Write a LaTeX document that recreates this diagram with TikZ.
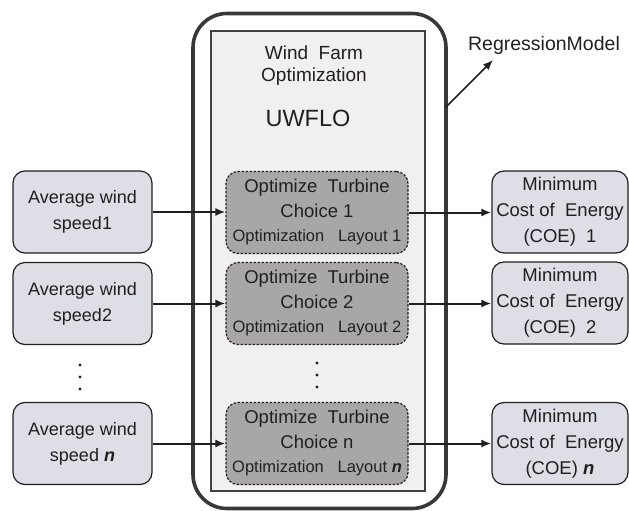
\documentclass[tikz,border=0pt]{standalone}
\usepackage{fontspec}
\setmainfont{Liberation Sans}
\usetikzlibrary{arrows.meta}
\definecolor{boxfill}{RGB}{221,222,230}
\definecolor{grayfill}{RGB}{168,167,165}
\definecolor{innerfill}{RGB}{240,240,240}
\definecolor{ink}{RGB}{35,31,32}
\tikzset{
  inbox/.style={draw=ink, line width=1.2pt, rounded corners=12pt, fill=boxfill,
    minimum width=139pt, minimum height=82pt, inner sep=0pt, align=center,
    text=ink, font=\fontsize{18}{26}\selectfont},
  optbox/.style={draw=ink, line width=1.2pt, dash pattern=on 2.5pt off 1.5pt,
    rounded corners=12pt, fill=grayfill,
    minimum width=182pt, minimum height=82pt, inner sep=0pt, align=center,
    text=ink, font=\fontsize{18.5}{25}\selectfont},
  outbox/.style={draw=ink, line width=1.2pt, rounded corners=12pt, fill=boxfill,
    minimum width=136pt, minimum height=82pt, inner sep=0pt, align=center,
    text=ink, font=\fontsize{18.5}{26}\selectfont},
  conn/.style={draw=ink, line width=2pt, -{Latex[length=10pt,width=8pt]}},
  dotmark/.style={fill=ink, circle, inner sep=0pt, minimum size=3.2pt},
  lbl/.style={text=ink, inner sep=0pt, align=center}
}
\begin{document}
\begin{tikzpicture}[x=1pt,y=-1pt]
\useasboundingbox (0,0) rectangle (629,511);
% outer rough frame
\node[draw=black!78, line width=3.6pt, rounded corners=34pt,
  minimum width=253pt, minimum height=495pt, inner sep=0pt] (outer) at (319.5,261) {};
% inner panel
\node[draw=black!75, line width=1.3pt, fill=innerfill,
  minimum width=214pt, minimum height=460pt, inner sep=0pt] (inner) at (318,261) {};
% titles
\node[lbl, font=\fontsize{19}{22}\selectfont] (title) at (314,66) {Wind\ \ Farm\\Optimization};
\node[lbl, font=\fontsize{23.5}{26}\selectfont] (uwflo) at (308,118) {UWFLO};
\node[lbl, font=\fontsize{19.5}{22}\selectfont] (reg) at (544,45) {RegressionModel};
% left boxes
\node[inbox] (a1) at (82.5,212) {Average wind\\speed1};
\node[inbox] (a2) at (82.5,303.5) {Average wind\\speed2};
\node[inbox] (a3) at (82.5,443.5) {Average wind\\speed \textbf{\textit{n}}};
% middle boxes
\node[optbox] (o1) at (317,212.5) {Optimize\ \ Turbine\\Choice 1\\[-1pt]{\fontsize{16.5}{18}\selectfont Optimization\ \ \ Layout 1}};
\node[optbox] (o2) at (317,303.5) {Optimize\ \ Turbine\\Choice 2\\[-1pt]{\fontsize{16.5}{18}\selectfont Optimization\ \ \ Layout 2}};
\node[optbox] (o3) at (317,443.5) {Optimize\ \ Turbine\\Choice n\\[-1pt]{\fontsize{16.5}{18}\selectfont Optimization\ \ \ Layout \textbf{\textit{n}}}};
% right boxes
\node[outbox] (c1) at (560,212) {Minimum\\Cost of\ \ Energy\\(COE)\ \ 1};
\node[outbox] (c2) at (560,303) {Minimum\\Cost of\ \ Energy\\(COE)\ \ 2};
\node[outbox] (c3) at (560,443.5) {Minimum\\Cost of\ \ Energy\\(COE) \textbf{\textit{n}}};
% connectors
\draw[conn] (a1.east) -- (o1.west |- a1.east);
\draw[conn] (a2.east) -- (o2.west |- a2.east);
\draw[conn] (a3.east) -- (o3.west |- a3.east);
\draw[conn] (o1.east) -- (c1.west |- o1.east);
\draw[conn] (o2.east) -- (c2.west |- o2.east);
\draw[conn] (o3.east) -- (c3.west |- o3.east);
\coordinate (rs) at (446,107);
\coordinate (rt) at (493,60);
\draw[conn, line width=1.6pt] (rs) -- (rt);
% ellipsis dots
\node[dotmark] (d1) at (80,365) {};
\node[dotmark] (d2) at (80,377) {};
\node[dotmark] (d3) at (80,389) {};
\node[dotmark] (m1) at (317,363) {};
\node[dotmark] (m2) at (317,375) {};
\node[dotmark] (m3) at (317,387) {};
\end{tikzpicture}
\end{document}
